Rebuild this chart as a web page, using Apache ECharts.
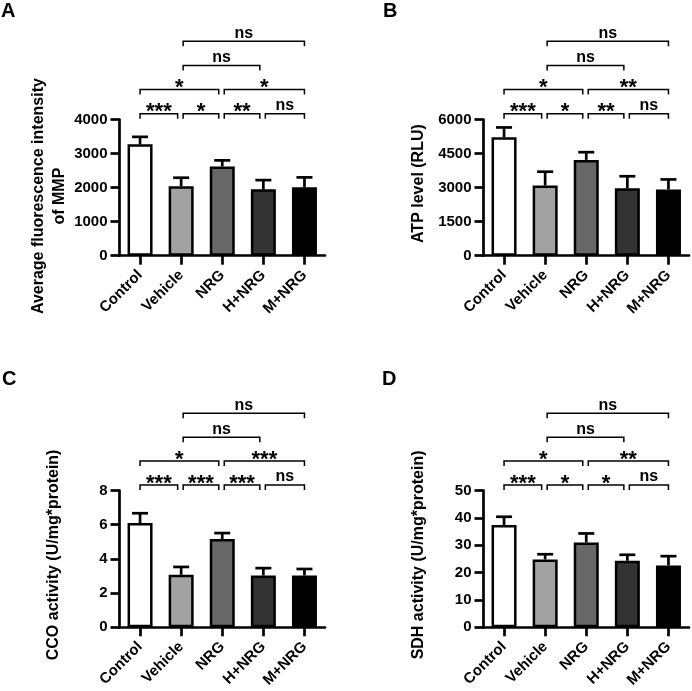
<!DOCTYPE html>
<html>
<head>
<meta charset="utf-8">
<script src="https://cdn.jsdelivr.net/npm/echarts@6/dist/echarts.min.js"></script>
<style>html,body{margin:0;padding:0;background:#fff}#c{width:692px;height:691px}</style>
</head>
<body>
<div id="c"></div>
<script>
// ---- data ----
const categories = ['Control', 'Vehicle', 'NRG', 'H+NRG', 'M+NRG'];
const barColors = ['#ffffff', '#a2a2a2', '#676767', '#333333', '#000000'];

const mmpMean = [3270, 2040, 2620, 1950, 2010];
const mmpSD   = [220, 250, 180, 270, 290];
const atpMean = [5220, 3090, 4220, 2970, 2920];
const atpSD   = [430, 610, 340, 530, 440];
const ccoMean = [6.1, 3.07, 5.16, 3.03, 3.03];
const ccoSD   = [0.57, 0.46, 0.35, 0.43, 0.38];
const sdhMean = [37.4, 24.8, 31.0, 24.3, 22.6];
const sdhSD   = [3.0, 1.9, 3.3, 2.2, 3.4];

// comparison pairs: [from category index, to category index, bracket level]
const comparisons = [[0,1,1],[1,2,1],[2,3,1],[3,4,1],[0,2,2],[2,4,2],[1,3,3],[1,4,4]];
const sigA = ['***','*','**','ns','*','*','ns','ns'];
const sigB = ['***','*','**','ns','*','**','ns','ns'];
const sigC = ['***','***','***','ns','*','***','ns','ns'];
const sigD = ['***','*','*','ns','*','**','ns','ns'];

const ticksA = [0, 4000, 1000];
const ticksB = [0, 6000, 1500];
const ticksC = [0, 8, 2];
const ticksD = [0, 50, 10];

// ---- layout ----
const FONT = '"Liberation Sans", Arial, sans-serif';
const panels = [
  {letter:'A', mean:mmpMean, sd:mmpSD, sig:sigA, ticks:ticksA, name:'Average fluorescence intensity\nof MMP',
   main:{left:119.5, top:119.5, width:205.5, height:136.2}, br:{left:119.5, top:41.3, width:205.5, height:96.5},
   nameGap:49, namePad:[0,17,0,0], lx:1, ly:1},
  {letter:'B', mean:atpMean, sd:atpSD, sig:sigB, ticks:ticksB, name:'ATP level (RLU)',
   main:{left:483.5, top:119.5, width:205.5, height:136.2}, br:{left:483.5, top:41.3, width:205.5, height:96.5},
   nameGap:54, namePad:[0,0,0,8], lx:383, ly:1},
  {letter:'C', mean:ccoMean, sd:ccoSD, sig:sigC, ticks:ticksC, name:'CCO activity (U/mg*protein)',
   main:{left:119.5, top:490.5, width:205.5, height:136.8}, br:{left:119.5, top:413.3, width:205.5, height:95.6},
   nameGap:55, namePad:[0,0,0,8], lx:2, ly:369},
  {letter:'D', mean:sdhMean, sd:sdhSD, sig:sigD, ticks:ticksD, name:'SDH activity (U/mg*protein)',
   main:{left:483.5, top:490.5, width:205.5, height:136.8}, br:{left:483.5, top:413.3, width:205.5, height:95.6},
   nameGap:54, namePad:[0,0,0,8], lx:382, ly:369}
];

const AXW = 2.7;
const grid = [], xAxis = [], yAxis = [], series = [], graphic = [];

panels.forEach((p, k) => {
  const gi = grid.length;
  grid.push(Object.assign({containLabel:false}, p.main));
  grid.push(Object.assign({containLabel:false}, p.br));
  xAxis.push({
    type:'category', gridIndex:gi, data:categories, boundaryGap:true,
    axisLine:{show:true, lineStyle:{color:'#000', width:AXW}},
    axisTick:{show:true, alignWithLabel:true, length:9, lineStyle:{color:'#000', width:AXW}},
    axisLabel:{rotate:45, margin:17, color:'#000', fontSize:15, fontWeight:'bold', fontFamily:FONT, interval:0},
    splitLine:{show:false}
  });
  xAxis.push({type:'category', gridIndex:gi+1, data:categories, boundaryGap:true, show:false});
  yAxis.push({
    type:'value', gridIndex:gi, min:p.ticks[0], max:p.ticks[1], interval:p.ticks[2],
    name:p.name, nameLocation:'middle', nameGap:p.nameGap, nameRotate:90,
    nameTextStyle:{color:'#000', fontSize:16, fontWeight:'bold', fontFamily:FONT, lineHeight:21, padding:p.namePad},
    axisLine:{show:true, lineStyle:{color:'#000', width:AXW}},
    axisTick:{show:true, length:9, lineStyle:{color:'#000', width:AXW}},
    axisLabel:{margin:12, color:'#000', fontSize:15, fontWeight:'bold', fontFamily:FONT,
               formatter:function(v){ return String(v); }},
    splitLine:{show:false}
  });
  yAxis.push({type:'value', gridIndex:gi+1, min:0, max:4, show:false});

  series.push({
    type:'custom', xAxisIndex:gi, yAxisIndex:gi, z:2,
    data:p.mean.map((m, i) => [i, m, p.sd[i]]),
    encode:{x:0, y:1},
    renderItem:function(params, api){
      const x = api.value(0), m = api.value(1), s = api.value(2);
      const a = api.coord([x, m]), b = api.coord([x, m + s]);
      const st = {stroke:'#000', lineWidth:AXW};
      return {type:'group', children:[
        {type:'line', shape:{x1:a[0], y1:a[1], x2:b[0], y2:b[1]}, style:st},
        {type:'line', shape:{x1:b[0]-8, y1:b[1], x2:b[0]+8, y2:b[1]}, style:st}
      ]};
    }
  });
  series.push({
    type:'bar', xAxisIndex:gi, yAxisIndex:gi, z:3, barWidth:25,
    data:p.mean.map((v, i) => ({value:v, itemStyle:{color:barColors[i]}})),
    itemStyle:{borderColor:'#000', borderWidth:2.5},
    emphasis:{disabled:true}
  });
  const sig = p.sig;
  series.push({
    type:'custom', xAxisIndex:gi+1, yAxisIndex:gi+1, z:4,
    data:comparisons,
    encode:{x:[0,1], y:2},
    renderItem:function(params, api){
      const i = api.value(0), j = api.value(1), lvl = api.value(2);
      const a = api.coord([i, lvl]), b = api.coord([j, lvl]);
      const x1 = a[0] + (i > 0 ? 2 : 0), x2 = b[0] - (j < categories.length - 1 ? 3.5 : 0), y = a[1];
      const label = sig[params.dataIndex];
      const star = label.indexOf('*') >= 0;
      return {type:'group', children:[
        {type:'polyline', shape:{points:[[x1, y+5],[x1, y],[x2, y],[x2, y+5]]}, style:{stroke:'#000', lineWidth:1.5, fill:null}},
        {type:'text', x:(x1+x2)/2, y: star ? y - 1.5 : y - 8,
         style:{text:label, fill:'#000', fontSize: star ? 22 : 16, fontWeight:'bold', fontFamily:FONT, align:'center', verticalAlign:'middle'}}
      ]};
    }
  });
  graphic.push({type:'text', left:p.lx, top:p.ly, style:{text:p.letter, fill:'#000', fontSize:20, fontWeight:'bold', fontFamily:FONT}});
});

const chart = echarts.init(document.getElementById('c'), null, {renderer:'canvas'});
chart.setOption({animation:false, backgroundColor:'#fff', grid, xAxis, yAxis, series, graphic});
</script>
</body>
</html>
